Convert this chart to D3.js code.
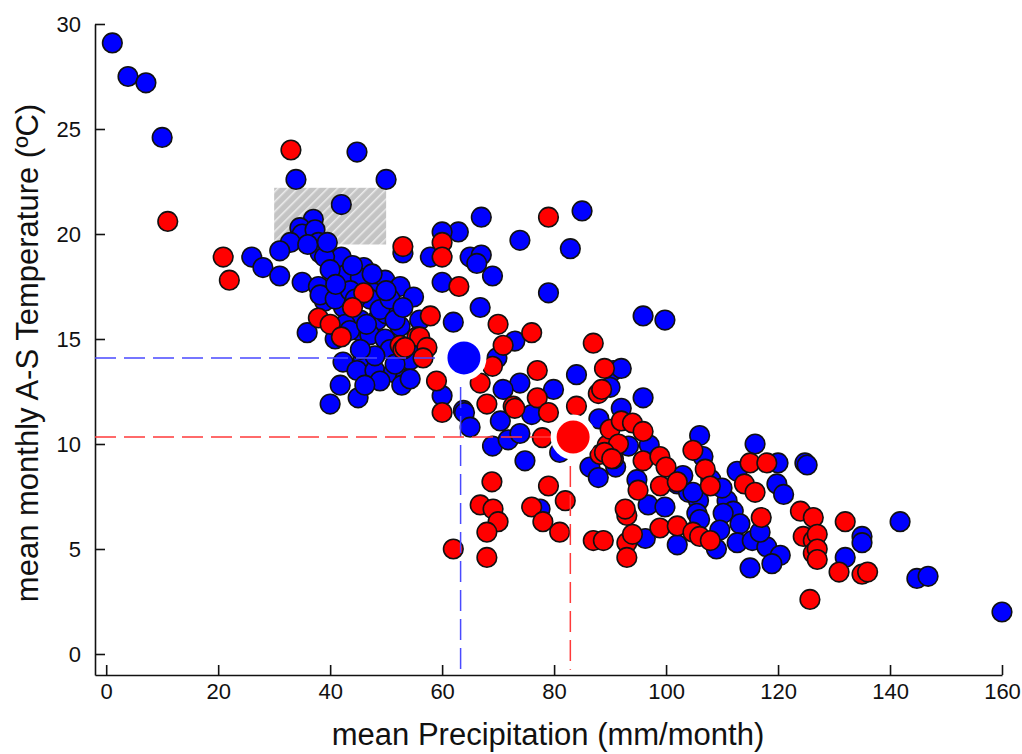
<!DOCTYPE html>
<html>
<head>
<meta charset="utf-8">
<script src="https://cdn.jsdelivr.net/npm/d3@7"></script>
<style>
  body { margin: 0; background: #fff; }
  svg { font-family: Arial, "Liberation Sans", sans-serif; }
</style>
</head>
<body>
<div id="vis"></div>
<script>
// blue group (x = precipitation, y = temperature)
var blueX = [1.1,3.9,7.1,10,33.9,44.8,50,42,37,34.6,35,37.3,32.9,31,37.9,38.2,53,26,28,31,35,42,43,46,45.4,49.8,52.5,54.9,37.9,39,47.7,42.4,35.9,40.9,45,48.4,50,52.5,42.3,45.9,46.6,44.8,48,51.3,53.4,52.8,45,40,
  39,40,38.2,40.9,43.6,47.1,48.9,50.7,51.6,45.4,42.7,47.1,49.8,50.7,48,45.4,55.2,54.3,51.6,48.9,46.2,41.8,36,39.5,44,47.5,41,44.5,50,53,56,43.5,46.5,
  85,67,62.9,60,57.9,73.9,82.9,65,67,66.2,69,79,60,66.8,62,73,69.8,84,73.9,79.9,90.6,60,70.9,63.8,54.3,
  64,65,70.4,69,71.8,73.9,74.8,76,81,86.4,87.9,77.5,88,
  95.9,99.8,92,90,95.9,92,97,93.3,91,94.8,96.8,99.8,96.3,102,102,104,105.8,105.5,106,109,106,106.6,104.8,110.9,112,110.2,113.2,109.6,112.7,115.4,118,120.4,115,118.9,116.8,115.9,120,112.7,119.8,121,124.8,103,108,110,
  125.2,141.8,135,135,132,144.8,146.8,160];
var blueY = [29.1,27.5,27.2,24.6,22.6,23.9,22.6,21.4,20.7,20.3,20,20.2,19.6,19.2,19.6,19.1,19.1,18.9,18.4,18,17.7,18.9,18.1,18.4,17.9,17.8,17.5,17,17.5,16.8,17.2,16.5,15.3,15,15.4,15.9,16.2,15.6,13.9,14.1,13.2,13.5,13.5,13.4,13.1,12.8,12.2,11.9,
  18.9,18.3,17.1,16.9,17.3,16.9,16.4,16.9,15.9,15.9,15.7,15.2,15,14.5,14.2,14.5,14.7,14,13.8,13,12.8,12.8,19.5,19.6,18.5,18.1,17.6,16.9,17.3,16.5,15.9,15.4,15.7,
  21.1,20.8,20.1,20.1,18.9,19.7,19.3,18.9,19,18.6,18,17.2,17.7,16.5,15.8,14.9,14.1,13.3,12.9,12.6,13.5,12.3,12.6,11.6,13.1,
  11.5,10.8,11.1,9.9,10.2,10.5,9.2,11.4,9.6,8.9,8.4,6.9,11.2,
  16.1,15.9,13.6,12.7,12.2,11.7,9.95,9.9,8.9,8.3,7.1,7,5.5,5.2,8.1,7.7,7.3,6.7,6.4,5,10.4,9.4,7.7,7.3,6.8,6.7,6.2,5.9,5.3,5.4,5.1,4.7,4.1,4.3,5.8,10,9.1,8.7,8.1,7.6,9.1,8.5,8.3,7.9,
  9,6.3,5.6,5.3,4.6,3.6,3.7,2];

// red group
var redX = [11,33,53,20.9,22,46,44,37.9,40,42,52.5,53,55.5,
  79,60,60,63,57.9,70,76,70.9,56,57.3,56.6,53.4,69,87,89,77,87.9,59,66.8,68,72.7,77,60,
  73,77.9,79,84,88.2,89.5,90.6,90,68.9,79,82,66.8,69.1,76,70,68,78,81,62,68,87,88.8,
  88.5,92,94,95.9,91.5,89,90.3,95.9,98.9,100,95,99,93,92.7,93,93,94,98.9,102,102,104.8,106,107.9,104.8,107,107.9,117,115,118,114,115.9,124,126.3,124.5,126.3,126.3,125.7,
  132,127,127,127,130.9,135,136];
var redY = [20.6,24,19.4,18.9,17.8,17.2,16.5,16,15.7,15.1,14.7,14.5,15.1,
  20.8,19.6,18.9,17.5,16.1,15.7,15.3,14.7,15.1,14.6,14.1,14.6,13.7,14.8,13.6,13.5,12.4,13,12.9,11.9,11.8,12.2,11.5,
  11.7,10.3,11.5,11.8,9.5,9.95,9.3,10.7,8.2,8,7.3,7.1,6.9,7,6.3,5.8,6.3,5.8,5,4.6,5.4,5.4,
  12.6,11.1,11,10.6,10,9.6,9.3,9.2,9.4,8.9,7.8,8,6.6,6.9,5.3,4.6,5.7,6,6.1,8.2,5.8,5.6,5.4,9.7,8.8,8,6.5,9.1,9.1,8.1,7.7,6.8,6.5,5.6,5.4,4.8,2.6,
  6.3,5.7,5,4.5,3.9,3.8,3.9];

// group means and their guide lines
var meanX = [63.9, 83.4];
var meanY = [14.1, 10.33];
var guideX = [63.3, 82.9];
var meanFill = ["#0000ff", "#ff0000"];
var guideColor = ["#4a4aff", "#ff3a3a"];

// shaded box
var boxX = [30, 50];
var boxY = [19.5, 22.2];

var xTicks = [0, 20, 40, 60, 80, 100, 120, 140, 160];
var yTicks = [0, 5, 10, 15, 20, 25, 30];

var width = 1022, height = 754;

var svg = d3.select("#vis").append("svg")
  .attr("width", width)
  .attr("height", height);

var x = d3.scaleLinear().domain([-2, 160]).range([95, 1002]);
var y = d3.scaleLinear().domain([-1, 30]).range([675, 24]);

// hatch pattern for the box
var defs = svg.append("defs");
var pat = defs.append("pattern")
  .attr("id", "hatch")
  .attr("patternUnits", "userSpaceOnUse")
  .attr("width", 7).attr("height", 7)
  .attr("patternTransform", "rotate(45)");
pat.append("rect").attr("width", 7).attr("height", 7).attr("fill", "#c4c4c4");
pat.append("line").attr("x1", 0).attr("y1", 0).attr("x2", 0).attr("y2", 7)
  .attr("stroke", "#ececec").attr("stroke-width", 3);

svg.append("rect")
  .attr("x", x(boxX[0]))
  .attr("y", y(boxY[1]))
  .attr("width", x(boxX[1]) - x(boxX[0]))
  .attr("height", y(boxY[0]) - y(boxY[1]))
  .attr("fill", "url(#hatch)");

// axes (ticks point inward)
var axisFont = "22px";
svg.append("g")
  .attr("transform", "translate(0," + y(-1) + ")")
  .call(d3.axisBottom(x).tickValues(xTicks).tickSizeInner(-10).tickSizeOuter(0).tickPadding(8))
  .call(function(g) {
    g.selectAll("text").style("font-size", axisFont).attr("fill", "#111");
    g.selectAll("line, path").attr("stroke", "#111").attr("stroke-width", 1.6);
  });

svg.append("g")
  .attr("transform", "translate(" + x(-2) + ",0)")
  .call(d3.axisLeft(y).tickValues(yTicks).tickSizeInner(-10).tickSizeOuter(0).tickPadding(14))
  .call(function(g) {
    g.selectAll("text").style("font-size", axisFont).attr("fill", "#111");
    g.selectAll("line, path").attr("stroke", "#111").attr("stroke-width", 1.6);
  });

// axis titles
svg.append("text")
  .attr("x", 548).attr("y", 745)
  .attr("text-anchor", "middle")
  .style("font-size", "31px")
  .attr("fill", "#111")
  .text("mean Precipitation (mm/month)");

svg.append("text")
  .attr("transform", "translate(38,353) rotate(-90)")
  .attr("text-anchor", "middle")
  .style("font-size", "31px")
  .attr("fill", "#111")
  .text("mean monthly A-S Temperature (ºC)");

// points
var blue = blueX.map(function(d, i) { return {x: d, y: blueY[i]}; });
var red = redX.map(function(d, i) { return {x: d, y: redY[i]}; });

function drawPoints(data, fill) {
  svg.append("g").selectAll("circle")
    .data(data)
    .enter().append("circle")
      .attr("cx", function(d) { return x(d.x); })
      .attr("cy", function(d) { return y(d.y); })
      .attr("r", 9.8)
      .attr("fill", fill)
      .attr("stroke", "#111")
      .attr("stroke-width", 1.6);
}
drawPoints(blue, "#0000ff");
drawPoints(red, "#ff0000");

// dashed guide lines from axes to the means
meanX.forEach(function(mx, i) {
  var g = svg.append("g")
    .attr("stroke", guideColor[i])
    .attr("stroke-width", 1.5)
    .attr("stroke-dasharray", "21,8")
    .attr("fill", "none");
  g.append("line")
    .attr("x1", x(-2)).attr("x2", x(mx))
    .attr("y1", y(meanY[i])).attr("y2", y(meanY[i]));
  g.append("line")
    .attr("x1", x(guideX[i])).attr("x2", x(guideX[i]))
    .attr("y1", y(meanY[i])).attr("y2", y(-0.75));
});

// big mean points
svg.append("g").selectAll("circle")
  .data(meanX)
  .enter().append("circle")
    .attr("cx", function(d) { return x(d); })
    .attr("cy", function(d, i) { return y(meanY[i]); })
    .attr("r", 19.5)
    .attr("fill", function(d, i) { return meanFill[i]; })
    .attr("stroke", "#fff")
    .attr("stroke-width", 6);
</script>
</body>
</html>
